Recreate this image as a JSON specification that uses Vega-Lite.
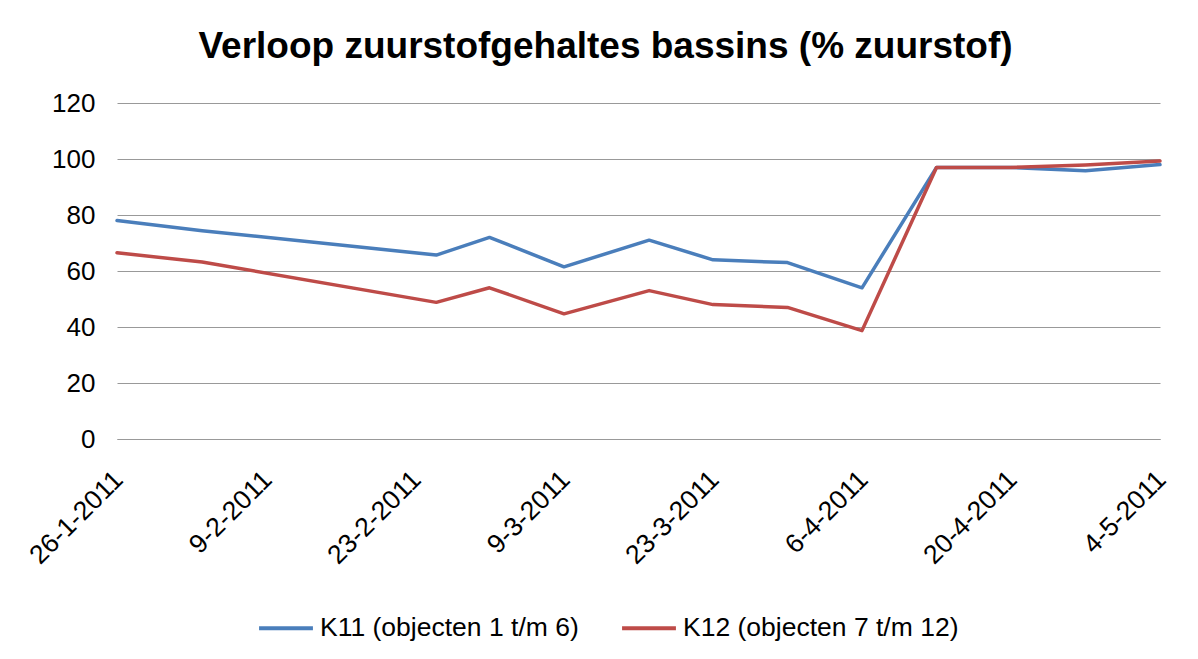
{
  "$schema": "https://vega.github.io/schema/vega-lite/v6.json",
  "width": 1043,
  "height": 336,
  "autosize": {"type": "none"},
  "padding": {"left": 117, "top": 103, "right": 38, "bottom": 220},
  "background": "white",
  "title": {
    "text": "Verloop zuurstofgehaltes bassins (% zuurstof)",
    "font": "Liberation Sans",
    "fontSize": 37,
    "fontWeight": "bold",
    "color": "#000000",
    "anchor": "middle",
    "dx": -33,
    "offset": 24
  },
  "data": {
    "values": [
      {"datum": "2011-01-26", "reeks": "K11 (objecten 1 t/m 6)", "zuurstof": 78},
      {"datum": "2011-02-03", "reeks": "K11 (objecten 1 t/m 6)", "zuurstof": 74.4},
      {"datum": "2011-02-25", "reeks": "K11 (objecten 1 t/m 6)", "zuurstof": 65.7},
      {"datum": "2011-03-02", "reeks": "K11 (objecten 1 t/m 6)", "zuurstof": 72},
      {"datum": "2011-03-09", "reeks": "K11 (objecten 1 t/m 6)", "zuurstof": 61.5},
      {"datum": "2011-03-17", "reeks": "K11 (objecten 1 t/m 6)", "zuurstof": 71},
      {"datum": "2011-03-23", "reeks": "K11 (objecten 1 t/m 6)", "zuurstof": 64},
      {"datum": "2011-03-30", "reeks": "K11 (objecten 1 t/m 6)", "zuurstof": 63},
      {"datum": "2011-04-06", "reeks": "K11 (objecten 1 t/m 6)", "zuurstof": 54},
      {"datum": "2011-04-13", "reeks": "K11 (objecten 1 t/m 6)", "zuurstof": 97},
      {"datum": "2011-04-20", "reeks": "K11 (objecten 1 t/m 6)", "zuurstof": 97},
      {"datum": "2011-04-27", "reeks": "K11 (objecten 1 t/m 6)", "zuurstof": 95.8},
      {"datum": "2011-05-04", "reeks": "K11 (objecten 1 t/m 6)", "zuurstof": 98},
      {"datum": "2011-01-26", "reeks": "K12 (objecten 7 t/m 12)", "zuurstof": 66.5},
      {"datum": "2011-02-03", "reeks": "K12 (objecten 7 t/m 12)", "zuurstof": 63.2},
      {"datum": "2011-02-25", "reeks": "K12 (objecten 7 t/m 12)", "zuurstof": 48.8},
      {"datum": "2011-03-02", "reeks": "K12 (objecten 7 t/m 12)", "zuurstof": 54},
      {"datum": "2011-03-09", "reeks": "K12 (objecten 7 t/m 12)", "zuurstof": 44.7},
      {"datum": "2011-03-17", "reeks": "K12 (objecten 7 t/m 12)", "zuurstof": 53},
      {"datum": "2011-03-23", "reeks": "K12 (objecten 7 t/m 12)", "zuurstof": 48},
      {"datum": "2011-03-30", "reeks": "K12 (objecten 7 t/m 12)", "zuurstof": 47},
      {"datum": "2011-04-06", "reeks": "K12 (objecten 7 t/m 12)", "zuurstof": 38.7},
      {"datum": "2011-04-13", "reeks": "K12 (objecten 7 t/m 12)", "zuurstof": 97},
      {"datum": "2011-04-20", "reeks": "K12 (objecten 7 t/m 12)", "zuurstof": 97},
      {"datum": "2011-04-27", "reeks": "K12 (objecten 7 t/m 12)", "zuurstof": 97.9},
      {"datum": "2011-05-04", "reeks": "K12 (objecten 7 t/m 12)", "zuurstof": 99.3}
    ]
  },
  "mark": {"type": "line", "strokeWidth": 3.5, "strokeJoin": "round", "strokeCap": "round"},
  "encoding": {
    "x": {
      "field": "datum",
      "type": "temporal",
      "scale": {
        "type": "utc",
        "domain": [
          {"year": 2011, "month": 1, "date": 26, "utc": true},
          {"year": 2011, "month": 5, "date": 4, "utc": true}
        ]
      },
      "axis": {
        "title": null,
        "values": [
          {"year": 2011, "month": 1, "date": 26, "utc": true},
          {"year": 2011, "month": 2, "date": 9, "utc": true},
          {"year": 2011, "month": 2, "date": 23, "utc": true},
          {"year": 2011, "month": 3, "date": 9, "utc": true},
          {"year": 2011, "month": 3, "date": 23, "utc": true},
          {"year": 2011, "month": 4, "date": 6, "utc": true},
          {"year": 2011, "month": 4, "date": 20, "utc": true},
          {"year": 2011, "month": 5, "date": 4, "utc": true}
        ],
        "format": "%-d-%-m-%Y",
        "labelAngle": -45,
        "labelFont": "Liberation Sans",
        "labelFontSize": 26.5,
        "labelColor": "#000000",
        "labelPadding": 27,
        "labelOffset": -8,
        "labelOverlap": false,
        "labelFlush": false,
        "ticks": false,
        "grid": false,
        "domain": true,
        "domainColor": "#999999",
        "domainWidth": 1.2
      }
    },
    "y": {
      "field": "zuurstof",
      "type": "quantitative",
      "scale": {"domain": [0, 120]},
      "axis": {
        "title": null,
        "values": [0, 20, 40, 60, 80, 100, 120],
        "labelFont": "Liberation Sans",
        "labelFontSize": 26,
        "labelColor": "#000000",
        "labelPadding": 22,
        "ticks": false,
        "domain": false,
        "grid": true,
        "gridColor": "#999999",
        "gridWidth": 1.2
      }
    },
    "color": {
      "field": "reeks",
      "type": "nominal",
      "scale": {
        "domain": ["K11 (objecten 1 t/m 6)", "K12 (objecten 7 t/m 12)"],
        "range": ["#4a7ebb", "#be4b48"]
      },
      "legend": {
        "orient": "none",
        "legendX": 140,
        "legendY": 496,
        "direction": "horizontal",
        "title": null,
        "symbolType": "stroke",
        "symbolSize": 2900,
        "symbolStrokeWidth": 4,
        "labelFont": "Liberation Sans",
        "labelFontSize": 26.5,
        "labelColor": "#000000",
        "labelOffset": 5,
        "labelLimit": 0,
        "columnPadding": 35
      }
    }
  },
  "config": {"view": {"stroke": null}}
}
